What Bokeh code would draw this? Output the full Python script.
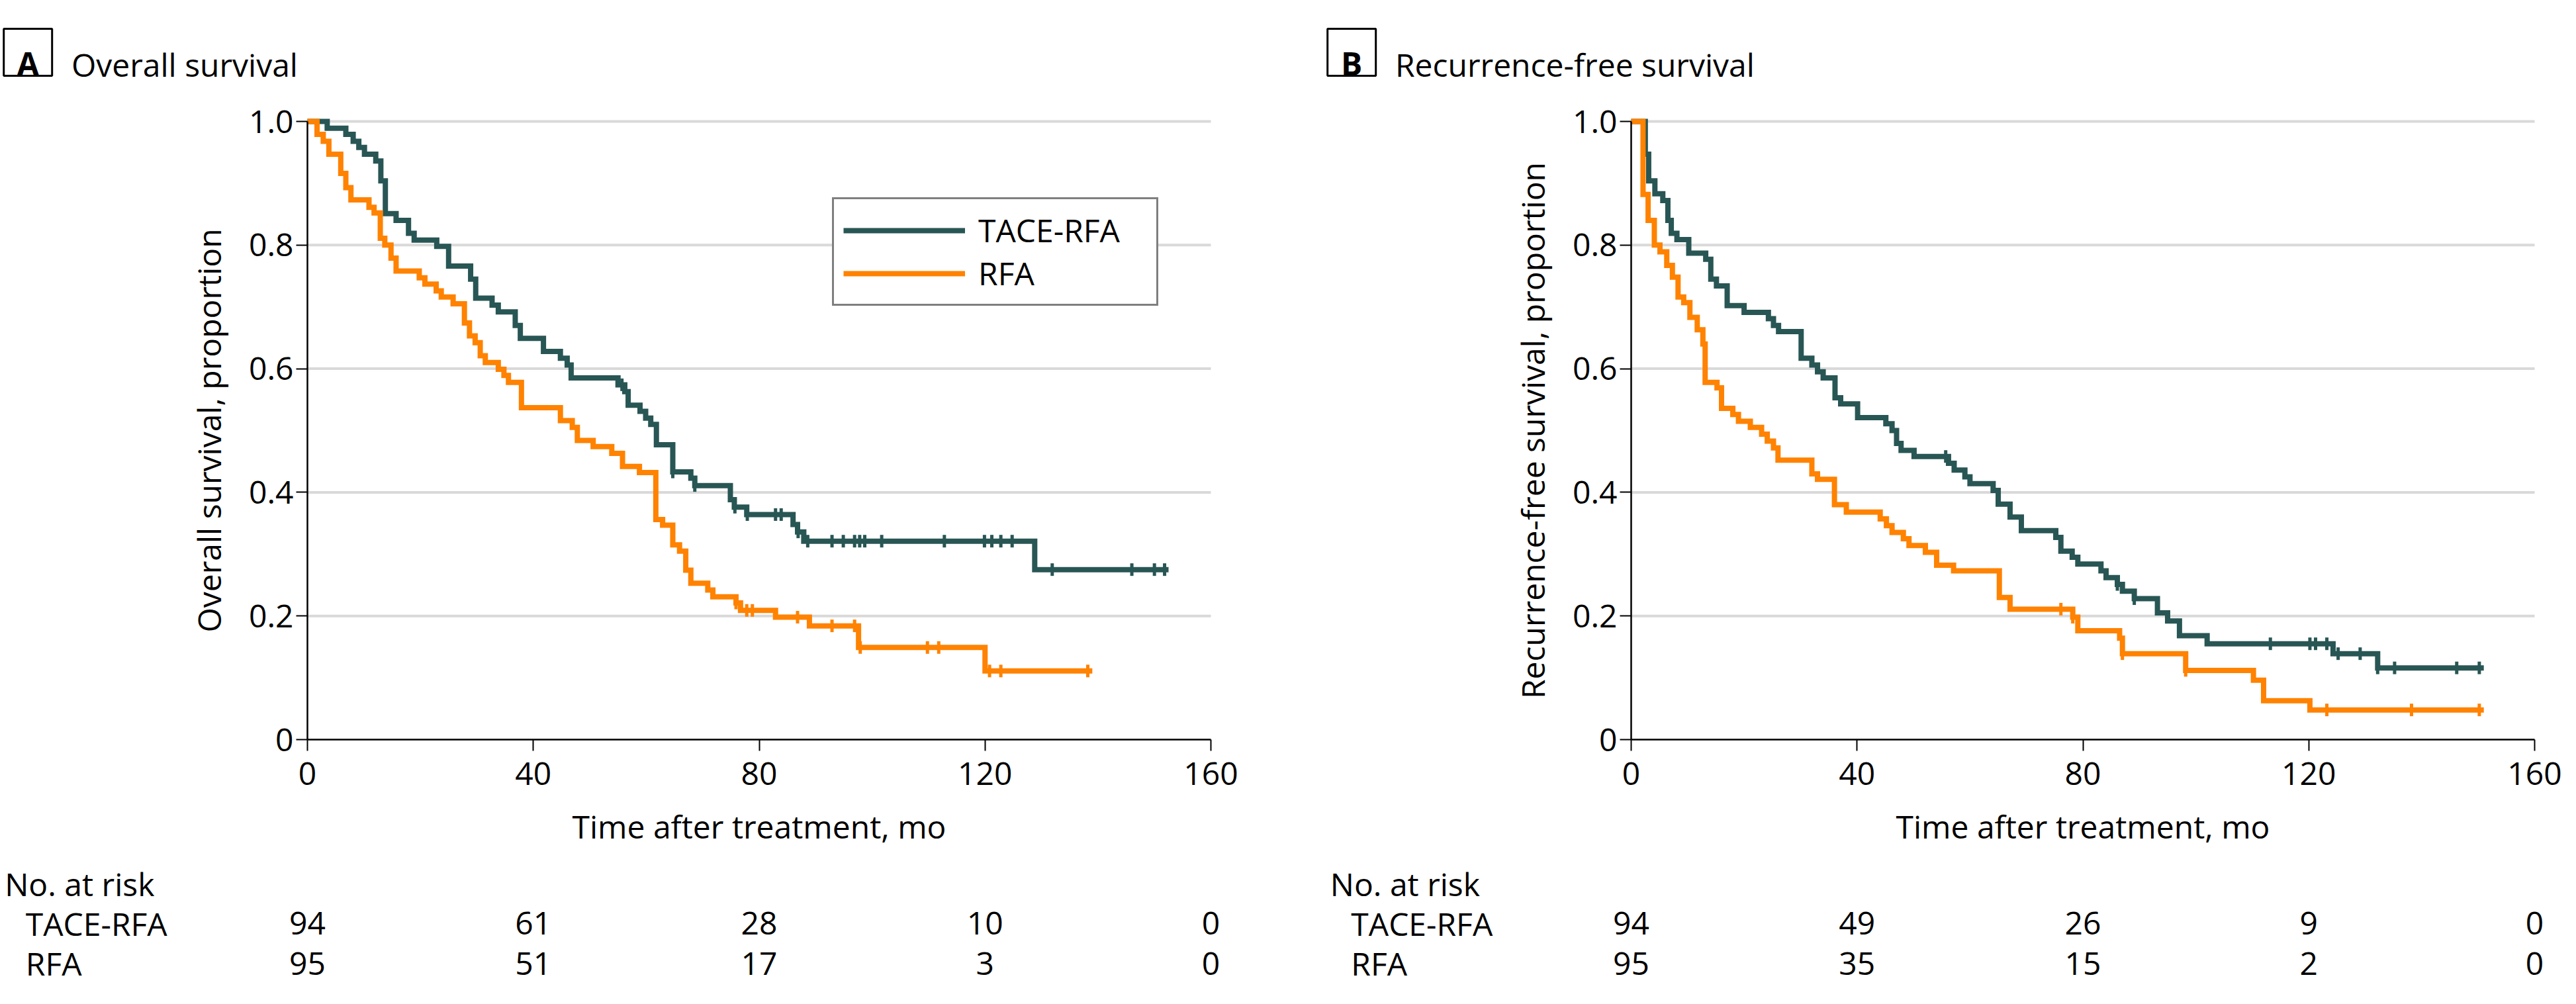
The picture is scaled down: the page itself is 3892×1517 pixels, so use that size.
import numpy as np
from bokeh.plotting import figure
from bokeh.layouts import row
from bokeh.models import (Legend, LegendItem, FixedTicker, CustomJSTickFormatter)
from bokeh.core.properties import value
from bokeh.embed import file_html
from bokeh.resources import INLINE

FONT = "Open Sans"
TEAL = "#285654"
ORANGE = "#ff8200"
GRID = "#d9d9d9"
FS = "48px"

# ---------------- data ----------------
# Panel A: overall survival, TACE-RFA
os_tace_t = [0, 3.5, 6.8, 8.1, 9.1, 10.1, 12.1, 13.0, 13.8, 15.7, 17.9, 18.9, 22.9, 25.0, 28.9, 29.8,
             32.7, 33.8, 36.8, 37.7, 41.8, 44.8, 46.0, 46.7, 55.0, 56.2, 56.8, 58.9, 59.9, 60.8, 61.8,
             64.7, 67.9, 68.6, 74.9, 75.6, 77.8, 86.0, 86.8, 87.9, 128.8]
os_tace_s = [1.0, 0.989, 0.979, 0.968, 0.958, 0.947, 0.936, 0.904, 0.851, 0.840, 0.819, 0.808, 0.798,
             0.766, 0.745, 0.714, 0.703, 0.692, 0.670, 0.649, 0.628, 0.617, 0.606, 0.585, 0.574, 0.563,
             0.541, 0.531, 0.520, 0.510, 0.477, 0.433, 0.423, 0.411, 0.388, 0.376, 0.364, 0.348, 0.336,
             0.321, 0.275]
os_tace_end = 152.5
os_tace_cens = [55.7, 64.7, 68.6, 75.7, 77.9, 82.9, 83.9, 86.9, 88.6, 92.9, 94.9, 96.9, 97.8, 98.7,
                101.7, 112.8, 119.9, 121.2, 122.8, 124.8, 131.9, 146.0, 150.0, 151.8]

# Panel A: overall survival, RFA
os_rfa_t = [0, 1.7, 2.8, 3.8, 5.9, 6.8, 7.7, 10.9, 11.8, 12.9, 13.7, 14.8, 15.7, 19.8, 20.8, 22.8, 23.7,
            25.8, 27.8, 28.7, 29.7, 30.6, 31.5, 33.8, 34.8, 35.6, 37.9, 44.8, 46.9, 47.8, 50.6, 53.9,
            55.8, 58.8, 61.7, 62.9, 64.7, 65.9, 67.0, 67.9, 70.9, 71.8, 75.9, 76.7, 82.9, 88.9, 97.6, 120.0]
os_rfa_s = [1.0, 0.979, 0.968, 0.947, 0.916, 0.893, 0.873, 0.861, 0.852, 0.811, 0.800, 0.779, 0.758,
            0.747, 0.737, 0.726, 0.716, 0.705, 0.674, 0.653, 0.642, 0.621, 0.610, 0.599, 0.589, 0.578,
            0.537, 0.516, 0.505, 0.484, 0.474, 0.463, 0.442, 0.432, 0.356, 0.347, 0.315, 0.305, 0.274,
            0.253, 0.242, 0.231, 0.221, 0.209, 0.198, 0.184, 0.149, 0.111]
os_rfa_end = 139.0
os_rfa_cens = [75.9, 77.8, 78.8, 86.8, 92.9, 96.9, 97.9, 109.8, 111.8, 120.8, 122.8, 138.2]

# Panel B: recurrence-free survival, TACE-RFA
rfs_tace_t = [0, 2.5, 3.1, 4.2, 5.6, 6.5, 7.1, 8.1, 10.2, 13.2, 14.1, 15.1, 17.0, 20.0, 24.3, 25.2, 26.1,
              30.1, 32.0, 33.0, 34.0, 36.1, 37.1, 40.1, 45.1, 46.2, 47.0, 47.8, 50.1, 56.2, 57.2, 59.1,
              60.0, 64.1, 65.0, 67.1, 69.1, 75.2, 76.1, 78.1, 79.1, 83.2, 84.1, 86.1, 87.0, 89.1, 93.2,
              95.0, 97.1, 102.0, 124.3, 132.2]
rfs_tace_s = [1.0, 0.947, 0.904, 0.883, 0.872, 0.840, 0.819, 0.809, 0.787, 0.777, 0.745, 0.734, 0.702,
              0.691, 0.681, 0.670, 0.660, 0.617, 0.606, 0.595, 0.585, 0.553, 0.543, 0.521, 0.511, 0.500,
              0.479, 0.468, 0.458, 0.447, 0.436, 0.425, 0.414, 0.403, 0.381, 0.360, 0.338, 0.327, 0.305,
              0.295, 0.284, 0.273, 0.262, 0.251, 0.240, 0.228, 0.205, 0.192, 0.168, 0.155, 0.139, 0.116]
rfs_tace_end = 151.0
rfs_tace_cens = [55.7, 86.1, 89.1, 113.2, 120.2, 121.2, 123.2, 125.2, 129.1, 132.2, 135.2, 146.2, 150.2]

# Panel B: recurrence-free survival, RFA
rfs_rfa_t = [0, 2.1, 3.0, 4.1, 5.1, 6.3, 7.3, 8.3, 9.3, 10.4, 11.7, 12.7, 13.1, 15.2, 16.0, 18.0, 19.0,
             21.1, 23.1, 24.1, 25.2, 26.0, 32.0, 33.0, 36.0, 38.1, 44.1, 45.2, 46.2, 48.2, 49.2, 52.1,
             54.1, 57.1, 65.2, 67.1, 78.2, 79.1, 86.5, 87.0, 98.2, 110.2, 112.0, 120.2]
rfs_rfa_s = [1.0, 0.882, 0.840, 0.800, 0.789, 0.767, 0.748, 0.716, 0.707, 0.683, 0.663, 0.640, 0.578,
             0.569, 0.536, 0.526, 0.515, 0.505, 0.494, 0.483, 0.472, 0.452, 0.430, 0.421, 0.380, 0.368,
             0.357, 0.346, 0.335, 0.325, 0.314, 0.303, 0.282, 0.273, 0.230, 0.211, 0.198, 0.176, 0.164,
             0.139, 0.112, 0.096, 0.063, 0.048]
rfs_rfa_end = 151.0
rfs_rfa_cens = [76.1, 78.2, 87.0, 98.2, 123.2, 138.2, 150.2]

# Numbers at risk
risk_times = [0, 40, 80, 120, 160]
os_risk_tace = [94, 61, 28, 10, 0]
os_risk_rfa = [95, 51, 17, 3, 0]
rfs_risk_tace = [94, 49, 26, 9, 0]
rfs_risk_rfa = [95, 35, 15, 2, 0]

x_ticks = [0, 40, 80, 120, 160]
y_ticks = [0, 0.2, 0.4, 0.6, 0.8, 1.0]
group_names = ["TACE-RFA", "RFA"]

# ---------------- layout constants (pixels) ----------------
HEIGHT = 1500
AXIS_LEFT = 464          # x of the time-zero axis inside each canvas
AXIS_BOTTOM = 383        # y (from canvas bottom) of the survival-zero axis
PX_X = 1365 / 160.0      # pixels per month
PX_Y = 934.0             # pixels per unit of survival


def s_at(times, surv, tt):
    idx = np.searchsorted(np.asarray(times), np.asarray(tt), side="right") - 1
    return list(np.asarray(surv)[idx])


def panel(letter, title, ylabel, tace, rfa, risk_tace, risk_rfa, width, nar_x, row_x, legend):
    x0 = -AXIS_LEFT / PX_X
    y0 = -AXIS_BOTTOM / PX_Y
    p = figure(frame_width=width, frame_height=HEIGHT,
               x_range=(x0, x0 + width / PX_X), y_range=(y0, y0 + HEIGHT / PX_Y),
               output_backend="svg", toolbar_location=None,
               min_border_left=0, min_border_right=0, min_border_top=0, min_border_bottom=0)
    p.outline_line_color = None
    p.background_fill_color = "white"
    p.border_fill_color = "white"
    p.grid.visible = False

    xa = p.xaxis[0]
    ya = p.yaxis[0]
    xa.fixed_location = 0
    ya.fixed_location = 0
    xa.bounds = (0, 160)
    ya.bounds = (0, 1)
    xa.ticker = FixedTicker(ticks=x_ticks)
    ya.ticker = FixedTicker(ticks=y_ticks)
    ya.formatter = CustomJSTickFormatter(code="return tick == 0 ? '0' : tick.toFixed(1);")
    xa.axis_label = "Time after treatment, mo"
    ya.axis_label = ylabel
    for ax in (xa, ya):
        ax.axis_line_color = "black"
        ax.axis_line_width = 2.5
        ax.major_tick_line_color = "black"
        ax.major_tick_line_width = 2
        ax.major_tick_out = 17
        ax.major_tick_in = 0
        ax.minor_tick_line_color = None
        ax.major_label_text_font = FONT
        ax.major_label_text_font_size = FS
        ax.major_label_text_color = "black"
        ax.axis_label_text_font = FONT
        ax.axis_label_text_font_size = FS
        ax.axis_label_text_font_style = "normal"
        ax.axis_label_text_color = "black"
    xa.major_label_standoff = 17
    xa.axis_label_standoff = 27
    ya.major_label_standoff = 4
    ya.axis_label_standoff = 25

    # horizontal reference lines at the y ticks (0..160 only)
    gy = y_ticks[1:]
    p.segment(x0=[0] * len(gy), x1=[160] * len(gy), y0=gy, y1=gy,
              line_color=GRID, line_width=4)

    renderers = []
    for (tt, ss, end, cens), col in ((tace, TEAL), (rfa, ORANGE)):
        xs = list(tt) + [end]
        ys = list(ss) + [ss[-1]]
        r = p.step(x=xs, y=ys, mode="after", line_color=col, line_width=8, line_join="miter")
        renderers.append(r)
    for (tt, ss, end, cens), col in ((tace, TEAL), (rfa, ORANGE)):
        p.scatter(x=cens, y=s_at(tt, ss, cens), marker="dash", angle=np.pi / 2, size=19,
                  line_color=col, line_width=5)

    if legend:
        leg = Legend(items=[LegendItem(label=group_names[0], renderers=[renderers[0]]),
                            LegendItem(label=group_names[1], renderers=[renderers[1]])],
                     location=(1257, 1038), margin=0, padding=14, spacing=-6,
                     glyph_width=184, glyph_height=40, label_standoff=20, label_width=255,
                     label_text_font=FONT, label_text_font_size=FS, label_text_color="black",
                     border_line_color="black", border_line_width=3, background_fill_color="white",
                     background_fill_alpha=1.0)
        p.add_layout(leg)

    # ---- heading ----
    p.rect(x=[-49.5], y=[1.112], width=[73], height=[71], width_units="screen",
           height_units="screen", fill_color=None, line_color="black", line_width=3)
    p.text(x=[-49.5], y=[1.094], text=[letter], text_font=value(FONT),
           text_font_style="bold", text_font_size=value(FS), text_color="black",
           text_align="center", text_baseline="alphabetic")
    p.text(x=[-41.8], y=[1.092], text=[title], text_font=value(FONT),
           text_font_size=value(FS), text_color="black", text_align="left",
           text_baseline="alphabetic")

    # ---- number at risk table ----
    r1, r2 = -0.2976, -0.3619
    p.text(x=[nar_x], y=[-0.2334], text=["No. at risk"], text_font=value(FONT),
           text_font_size=value(FS), text_color="black", text_align="left",
           text_baseline="alphabetic")
    p.text(x=[row_x, row_x], y=[r1, r2], text=group_names,
           text_font=value(FONT), text_font_size=value(FS), text_color="black",
           text_align="left", text_baseline="alphabetic")
    p.text(x=risk_times + risk_times,
           y=[r1] * len(risk_times) + [r2] * len(risk_times),
           text=[str(v) for v in risk_tace + risk_rfa], text_font=value(FONT),
           text_font_size=value(FS), text_color="black", text_align="center",
           text_baseline="alphabetic")
    return p


pa = panel("A", "Overall survival", "Overall survival, proportion",
           (os_tace_t, os_tace_s, os_tace_end, os_tace_cens),
           (os_rfa_t, os_rfa_s, os_rfa_end, os_rfa_cens),
           os_risk_tace, os_risk_rfa, 2000, -53.6, -49.9, True)
pb = panel("B", "Recurrence-free survival", "Recurrence-free survival, proportion",
           (rfs_tace_t, rfs_tace_s, rfs_tace_end, rfs_tace_cens),
           (rfs_rfa_t, rfs_rfa_s, rfs_rfa_end, rfs_rfa_cens),
           rfs_risk_tace, rfs_risk_rfa, 1876, -53.3, -49.6, False)

layout = row(pa, pb, spacing=0)
open("out.html", "w").write(file_html(layout, INLINE))
